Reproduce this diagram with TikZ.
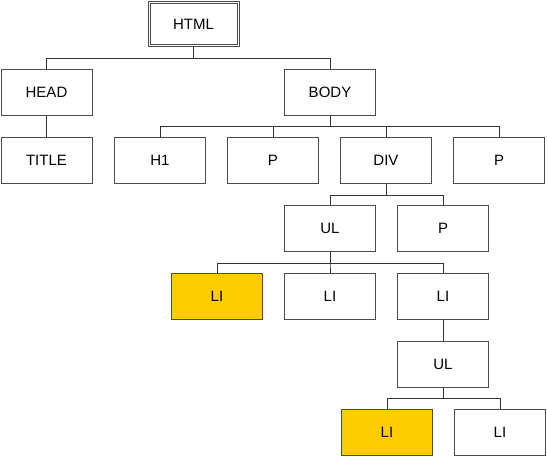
\documentclass[tikz,border=0pt]{standalone}
\usepackage{fontspec}
\setmainfont{Liberation Sans}
\usepackage{xcolor}
\usetikzlibrary{positioning}
\definecolor{hilite}{HTML}{FFCC00}

\begin{document}
\begin{tikzpicture}[
    x=1pt, y=-1pt,
    node distance=21pt,
    tag/.style={rectangle, draw=black!70, fill=white, line width=1pt, minimum width=91pt, minimum height=46pt, inner sep=0pt, font=\fontsize{15}{18}\selectfont},
    picked/.style={tag, fill=hilite},
    root/.style={tag, minimum width=91pt, minimum height=45pt},
    link/.style={draw=black!80, line width=1pt}
]
\useasboundingbox (0,0) rectangle (547,463);

\node[root] (html) at (193.5,24) {HTML};
\draw[link, draw=black!70] ([shift={(2.5,2.5)}]html.north west) rectangle ([shift={(-2.5,-2.5)}]html.south east);
\node[tag] (head) at (46.5,92) {HEAD};
\node[tag] (body) at (330,92) {BODY};
\node[tag, below=of head] (title) {TITLE};
\node[tag] (h1) at (160,160) {H1};
\node[tag, right=of h1] (p1) {P};
\node[tag, right=of p1] (div) {DIV};
\node[tag, right=of div] (p2) {P};
\node[tag] (ul) at (330,228) {UL};
\node[tag, right=of ul] (p3) {P};
\node[tag, below=of ul] (li2) {LI};
\node[picked, left=of li2] (li1) {LI};
\node[tag, right=of li2] (li3) {LI};
\node[tag, below=of li3] (ul2) {UL};
\node[picked] (li4) at (387,432) {LI};
\node[tag, right=of li4] (li5) {LI};

\foreach \c in {head,body}
    \draw[link] (html.south) -- ++(0,11.5) -| (\c.north);
\draw[link] (head) -- (title);
\foreach \c in {h1,p1,div,p2}
    \draw[link] (body.south) -- ++(0,11) -| (\c.north);
\foreach \c in {ul,p3}
    \draw[link] (div.south) -- ++(0,12) -| (\c.north);
\foreach \c in {li1,li2,li3}
    \draw[link] (ul.south) -- ++(0,11.5) -| (\c.north);
\draw[link] (li3) -- (ul2);
\foreach \c in {li4,li5}
    \draw[link] (ul2.south) -- ++(0,11) -| (\c.north);

\end{tikzpicture}
\end{document}
